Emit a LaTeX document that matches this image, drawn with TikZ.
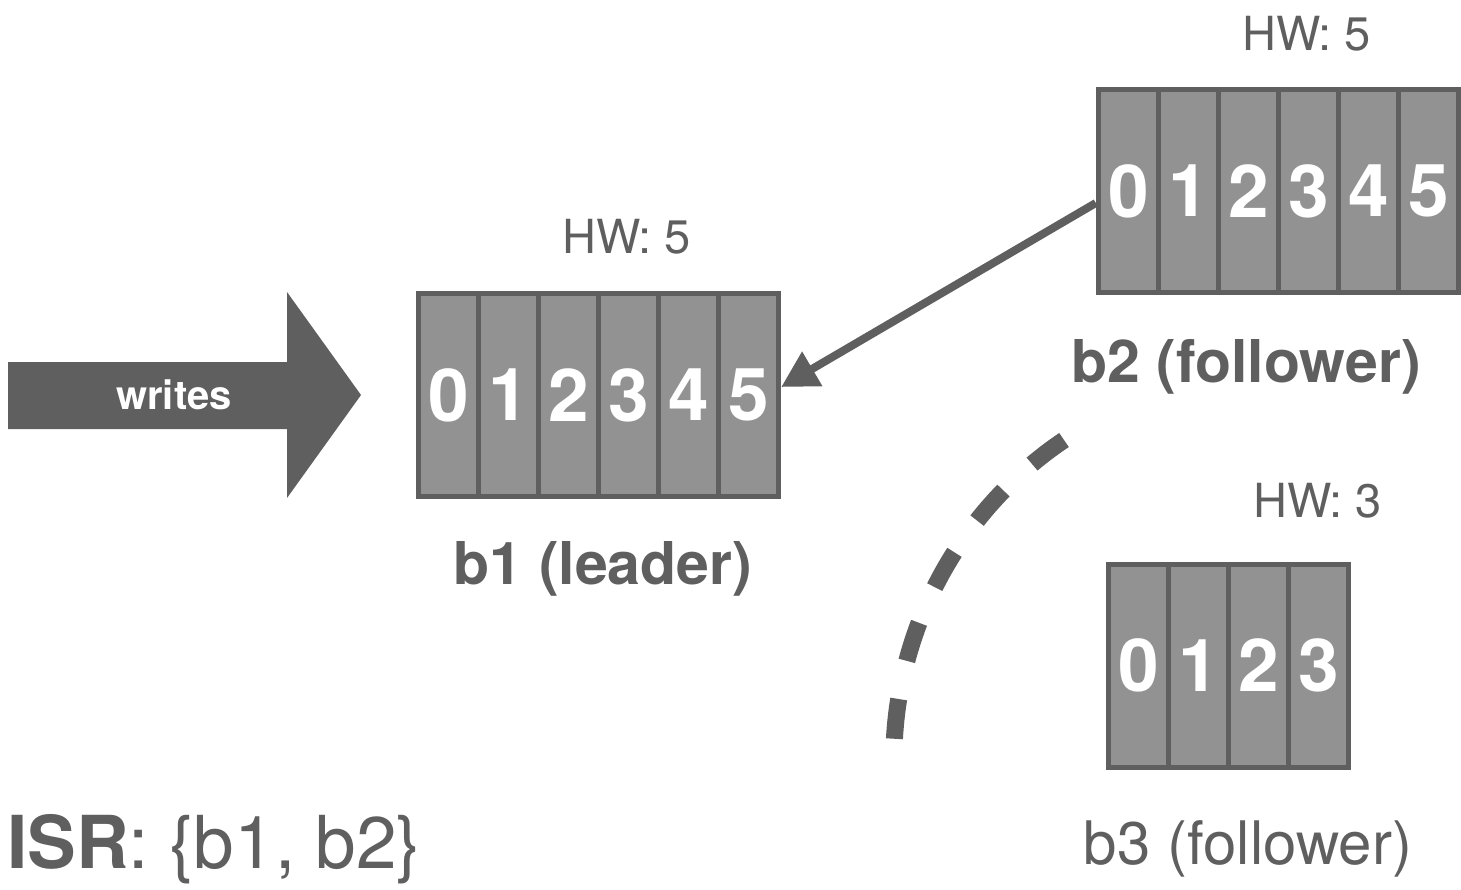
\documentclass[tikz,border=0pt]{standalone}
\usepackage{fontspec}
\setmainfont{TeX Gyre Heros}
\usetikzlibrary{arrows.meta,fit}
\definecolor{edgegray}{HTML}{5F5F5F}
\definecolor{cellgray}{HTML}{929292}

\begin{document}
\begin{tikzpicture}
    [x=1pt, y=-1pt,
    every node/.style={text=edgegray, inner sep=0pt},
    cell/.style={draw=edgegray, fill=cellgray, line width=5pt,
        minimum width=60pt, minimum height=203pt,
        text=white, font=\bfseries\fontsize{73}{73}\selectfont},
    hw/.style={anchor=base, font=\fontsize{47}{47}\selectfont},
    broker/.style={anchor=base, font=\fontsize{60}{60}\selectfont},
    replicate/.style={draw=edgegray, line width=8pt,
        -{Triangle[length=36pt, width=38pt]}},
    outofsync/.style={draw=edgegray, line width=17pt,
        dash pattern=on 40pt off 39pt}
    ]
    \useasboundingbox (0,0) rectangle (1461,889);

    % logs
    \foreach \i in {0,...,5} \node[cell] (b1c\i) at (448.5+60*\i, 395) {\i};
    \foreach \i in {0,...,5} \node[cell] (b2c\i) at (1128.5+60*\i, 191) {\i};
    \foreach \i in {0,...,3} \node[cell] (b3c\i) at (1138.5+60*\i, 665.5) {\i};
    \node[fit=(b1c0)(b1c5)] (b1) {};
    \node[fit=(b2c0)(b2c5)] (b2) {};
    \node[fit=(b3c0)(b3c3)] (b3) {};

    % labels
    \node[hw] (hw1) at (627,253) {HW: 5};
    \node[hw] (hw2) at (1307,50) {HW: 5};
    \node[hw] (hw3) at (1318,517) {HW: 3};
    \node[broker, font=\bfseries\fontsize{59}{59}\selectfont] (name1) at (603,584) {b1 (leader)};
    \node[broker, font=\bfseries\fontsize{59}{59}\selectfont] (name2) at (1246,382) {b2 (follower)};
    \node[broker] (name3) at (1248,864) {b3 (follower)};
    \node[anchor=base west, font=\fontsize{73}{73}\selectfont] (isr) at (7,868)
        {\textbf{ISR}: \{b1, b2\}};

    % producer
    \fill[edgegray] (8,362) -- (287,362) -- (287,292) -- (361,395)
        -- (287,498) -- (287,429) -- (8,429) -- cycle;
    \node[text=white, anchor=base, font=\bfseries\fontsize{40}{40}\selectfont]
        (writes) at (174,409) {writes};

    \draw[replicate] ([yshift=-12pt]b2.west) -- ([yshift=8pt]b1.east);
    \draw[outofsync] (1064,440) arc[start angle=124, end angle=177, radius=386pt];
\end{tikzpicture}
\end{document}
